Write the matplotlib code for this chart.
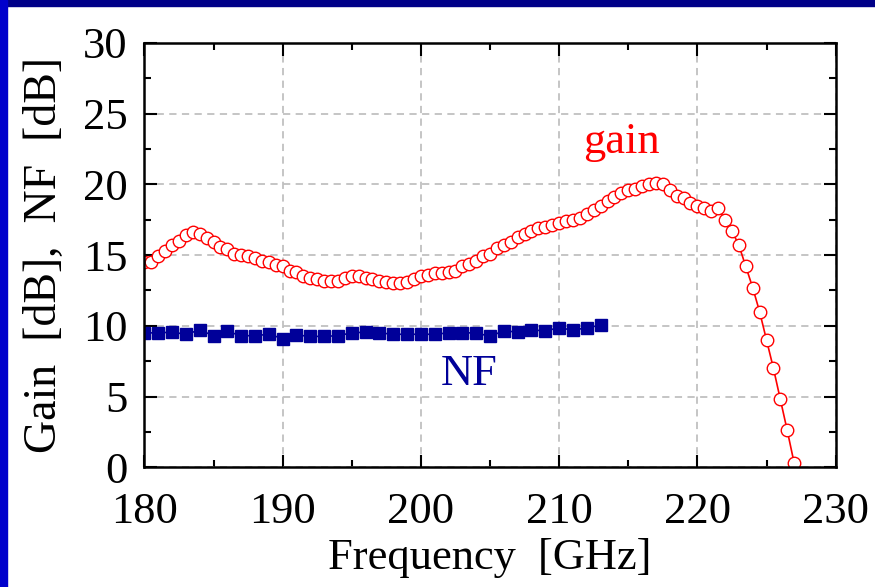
import matplotlib
matplotlib.use('Agg')
import matplotlib.pyplot as plt
from matplotlib.patches import Rectangle
from matplotlib.ticker import MultipleLocator

# gain, 0.5 GHz steps from 180 to 227 GHz
gain_freq = [180 + 0.5 * i for i in range(95)]
gain_db = [14.5, 14.5, 14.9, 15.3, 15.7, 16.0, 16.4, 16.6, 16.5, 16.2,
           15.9, 15.6, 15.4, 15.1, 15.0, 14.9, 14.8, 14.6, 14.5, 14.3,
           14.2, 13.9, 13.8, 13.5, 13.4, 13.3, 13.2, 13.2, 13.2, 13.4,
           13.5, 13.5, 13.4, 13.3, 13.2, 13.1, 13.0, 13.0, 13.1, 13.3,
           13.5, 13.6, 13.7, 13.7, 13.8, 13.9, 14.2, 14.4, 14.6, 14.9,
           15.1, 15.5, 15.7, 15.9, 16.3, 16.5, 16.7, 16.9, 17.0, 17.1,
           17.3, 17.4, 17.5, 17.6, 17.9, 18.2, 18.5, 18.8, 19.1, 19.4,
           19.6, 19.7, 19.9, 20.0, 20.1, 20.0, 19.6, 19.2, 19.0, 18.7,
           18.5, 18.3, 18.1, 18.3, 17.5, 16.7, 15.7, 14.2, 12.7, 11.0,
           9.0, 7.0, 4.8, 2.6, 0.3]

# noise figure, 1 GHz steps from 180 to 213 GHz
nf_freq = list(range(180, 214))
nf_db = [9.5, 9.5, 9.55, 9.4, 9.7, 9.3, 9.6, 9.3, 9.3, 9.4,
         9.1, 9.35, 9.25, 9.25, 9.3, 9.5, 9.55, 9.5, 9.4, 9.4,
         9.4, 9.4, 9.5, 9.5, 9.5, 9.25, 9.65, 9.55, 9.7, 9.65,
         9.85, 9.7, 9.85, 10.05]

plt.rcParams['font.family'] = ['Liberation Serif', 'DejaVu Serif']

fig = plt.figure(figsize=(8.75, 5.87), dpi=100)
# slide frame (dark blue bands)
fig.patches.append(Rectangle((0, 0.99), 1, 0.01, transform=fig.transFigure,
                             color='#000088', zorder=0))
fig.patches.append(Rectangle((0, 0), 0.008, 1, transform=fig.transFigure,
                             color='#0000cc', zorder=0))

ax = fig.add_axes([0.165, 0.204, 0.790, 0.723])
ax.plot(gain_freq, gain_db, color='red', lw=1.2, marker='o', ms=9,
        mfc='white', mec='red', mew=1.0)
ax.plot(nf_freq, nf_db, color='#000099', lw=1.2, marker='s', ms=8.5,
        mfc='#000099', mec='#000099')

ax.set_xlim(180, 230)
ax.set_ylim(0, 30)
ax.xaxis.set_major_locator(MultipleLocator(10))
ax.xaxis.set_minor_locator(MultipleLocator(5))
ax.yaxis.set_major_locator(MultipleLocator(5))
ax.yaxis.set_minor_locator(MultipleLocator(2.5))
ax.tick_params(which='both', direction='in', top=True, right=True,
               width=1.5, labelsize=32)
ax.tick_params(axis='x', which='major', pad=18)
ax.tick_params(axis='y', which='major', pad=12)
ax.tick_params(which='major', length=9)
ax.tick_params(which='minor', length=5)
for s in ax.spines.values():
    s.set_linewidth(1.8)
ax.grid(True, which='major', color='#c0c0c0', ls=(0, (4, 3)), lw=1.3)
ax.set_axisbelow(True)

ax.set_xlabel('Frequency  [GHz]', fontsize=32, labelpad=4)
ax.set_ylabel('Gain  [dB],  NF  [dB]', fontsize=33, labelpad=12)

ax.text(214.5, 23.0, 'gain', color='red', fontsize=32, ha='center', va='center')
ax.text(203.5, 6.6, 'NF', color='#000099', fontsize=32, ha='center', va='center')

fig.savefig('out.png', dpi=100)
